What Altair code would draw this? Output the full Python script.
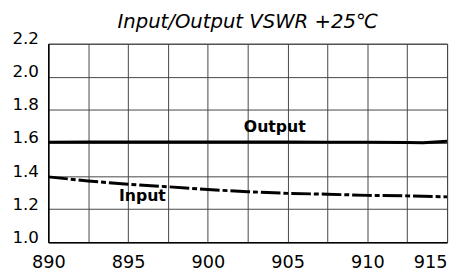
import altair as alt
import pandas as pd

freq = [890, 892.5, 895, 897.5, 900, 902.5, 905, 907.5, 910, 912.5, 913.5, 915]
output_vswr = [1.605, 1.606, 1.606, 1.606, 1.606, 1.606, 1.606, 1.605, 1.605, 1.603, 1.601, 1.61]
input_vswr = [1.395, 1.37, 1.35, 1.335, 1.318, 1.305, 1.295, 1.29, 1.283, 1.28, 1.278, 1.274]

label_text = ["Output", "Input"]
label_x = [904.2, 895.9]
label_y = [1.695, 1.279]

x_grid = [890, 892.5, 895, 897.5, 900, 902.5, 905, 907.5, 910, 912.5, 915]
y_grid = [1.0, 1.2, 1.4, 1.6, 1.8, 2.0, 2.2]

df = pd.DataFrame({"freq": freq, "out": output_vswr, "inp": input_vswr})
lab = pd.DataFrame({"t": label_text, "x": label_x, "y": label_y})

xs = alt.Scale(domain=[890, 915], nice=False, zero=False)
ys = alt.Scale(domain=[1.0, 2.2], nice=False, zero=False)

FONT = "DejaVu Sans"

xax = alt.Axis(values=x_grid, grid=True, ticks=False, title=None,
               labelExpr="datum.value % 5 == 0 ? format(datum.value, 'd') : ''",
               labelAlign=alt.expr("datum.value == 915 ? 'right' : 'center'"),
               labelFontSize=18, labelFont=FONT, labelColor="black",
               labelPadding=12, labelOverlap=False, labelBound=False,
               gridColor="#444", gridWidth=1, gridOpacity=1,
               domainColor="black", domainWidth=1.5)
yax = alt.Axis(values=y_grid, grid=True, ticks=False, title=None, format=".1f",
               labelFontSize=17, labelFont=FONT, labelColor="black",
               labelPadding=10, labelBaseline="alphabetic", labelOverlap=False,
               labelBound=False,
               gridColor="#444", gridWidth=1, gridOpacity=1,
               domainColor="black", domainWidth=1.5)

X = alt.X("freq:Q", scale=xs, axis=xax)

base = alt.Chart(df)
out_line = base.mark_line(color="black", strokeWidth=3).encode(
    x=X,
    y=alt.Y("out:Q", scale=ys, axis=yax),
)
in_line = base.mark_line(color="black", strokeWidth=3, strokeDash=[20, 3, 5, 3]).encode(
    x=X,
    y=alt.Y("inp:Q", scale=ys, axis=yax),
)
texts = alt.Chart(lab).mark_text(fontSize=16, fontWeight="bold", font=FONT,
                                 color="black").encode(
    x=alt.X("x:Q", scale=xs, axis=xax),
    y=alt.Y("y:Q", scale=ys, axis=yax),
    text="t:N",
)

chart = alt.layer(out_line, in_line, texts).properties(
    width=406, height=202,
    title=alt.TitleParams("Input/Output VSWR +25℃", fontSize=20, fontStyle="italic",
                          fontWeight="normal", font=FONT, color="black",
                          anchor="middle", offset=-2),
    autosize=alt.AutoSizeParams(type="none"),
    padding={"left": 41, "top": 34, "right": 5, "bottom": 28},
).configure_view(stroke="#444", strokeWidth=1)

chart.save("out.html", embed_options={"renderer": "svg", "actions": False})
